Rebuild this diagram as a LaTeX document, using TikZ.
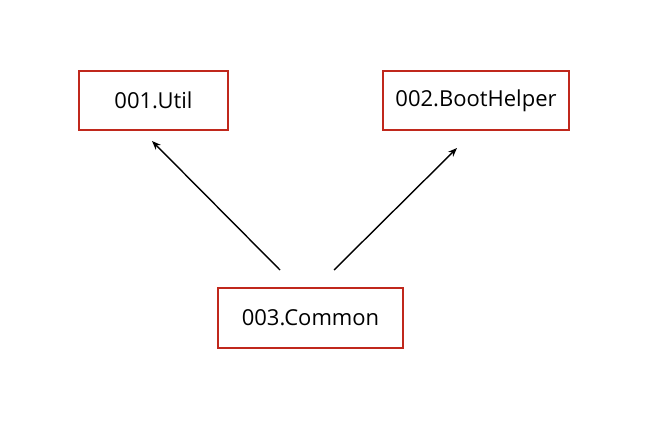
\documentclass[tikz,border=0pt]{standalone}
\usepackage{fontspec}
\setmainfont{Open Sans}
\usetikzlibrary{arrows.meta}
\definecolor{boxred}{HTML}{C0281C}
\tikzset{
  pkg/.style={draw=boxred,line width=1.6pt,minimum height=59pt,inner sep=0pt,font=\fontsize{22}{26}\selectfont},
  dep/.style={-{Stealth[length=9pt,width=7pt]},line width=1.4pt}
}
\begin{document}
\begin{tikzpicture}[x=1pt,y=-1pt]
            \useasboundingbox (0,0) rectangle (656,447);
            \node[pkg,minimum width=149pt] (util) at (153.5,100.5) {001.Util};
            \node[pkg,minimum width=186pt] (boot) at (476,100.5) {002.BootHelper};
            \node[pkg,minimum width=185pt,minimum height=60pt] (common) at (310.5,318) {003.Common};
            \coordinate (utilin) at (152,141);
            \coordinate (bootin) at (457,148);
            \coordinate (commonl) at (280,270);
            \coordinate (commonr) at (334,270);
            \draw[dep] (commonl)--(utilin);
            \draw[dep] (commonr)--(bootin);
        \end{tikzpicture}
\end{document}
